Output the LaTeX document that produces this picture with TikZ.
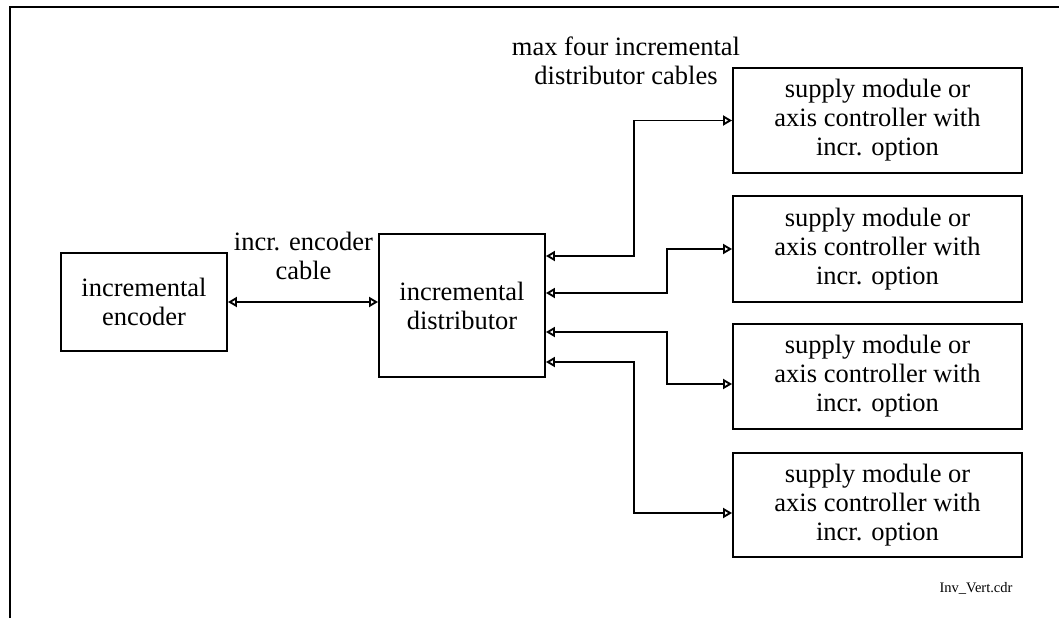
\documentclass[tikz,border=0pt]{standalone}
\usepackage{fontspec}
\setmainfont{Liberation Serif}
\usetikzlibrary{arrows.meta,calc}
\begin{document}
\begin{tikzpicture}[x=1pt,y=-1pt,
  every node/.style={font=\fontsize{26.5}{29}\selectfont},
  box/.style={draw,line width=1.9pt,align=center,inner sep=0pt},
  lbl/.style={align=center,inner sep=0pt},
  link/.style={line width=1.9pt,{Triangle[open,length=9pt,width=10pt]}-{Triangle[open,length=9pt,width=10pt]}},
  frame/.style={line width=2.2pt}]
\useasboundingbox (0,0) rectangle (1059,618);
\draw[frame] (10,618) -- (10,7) -- (1059,7);
\node[box,minimum width=166pt,minimum height=98pt] (enc) at (144,302) {incremental\\encoder};
\node[box,minimum width=166pt,minimum height=143pt] (dist) at (462,305.5) {incremental\\distributor};
\node[box,minimum width=289pt,minimum height=105pt] (s1) at (877.5,120.5) {supply module or\\axis controller with\\incr. option};
\node[box,minimum width=289pt,minimum height=106pt] (s2) at (877.5,249) {supply module or\\axis controller with\\incr. option};
\node[box,minimum width=289pt,minimum height=105pt] (s3) at (877.5,376.5) {supply module or\\axis controller with\\incr. option};
\node[box,minimum width=289pt,minimum height=104pt] (s4) at (877.5,505) {supply module or\\axis controller with\\incr. option};
\node[lbl] (lcable) at (303.5,256) {incr. encoder\\cable};
\node[lbl] (lmax) at (626,61) {max four incremental\\distributor cables};
\node[lbl,font=\fontsize{14.5}{17}\selectfont] (file) at (976,588) {Inv\_Vert.cdr};
\draw[link] (enc.east) -- (enc.east -| dist.west);
\draw[link] ([yshift=49.5pt]dist.east) -- ++(88,0) |- (s1.west);
\draw[link] ([yshift=12.5pt]dist.east) -- ++(121,0) |- (s2.west);
\draw[link] ([yshift=-26.5pt]dist.east) -- ++(121,0) |- ([yshift=-7.5pt]s3.west);
\draw[link] ([yshift=-56.5pt]dist.east) -- ++(88,0) |- ([yshift=-8pt]s4.west);
\end{tikzpicture}
\end{document}
